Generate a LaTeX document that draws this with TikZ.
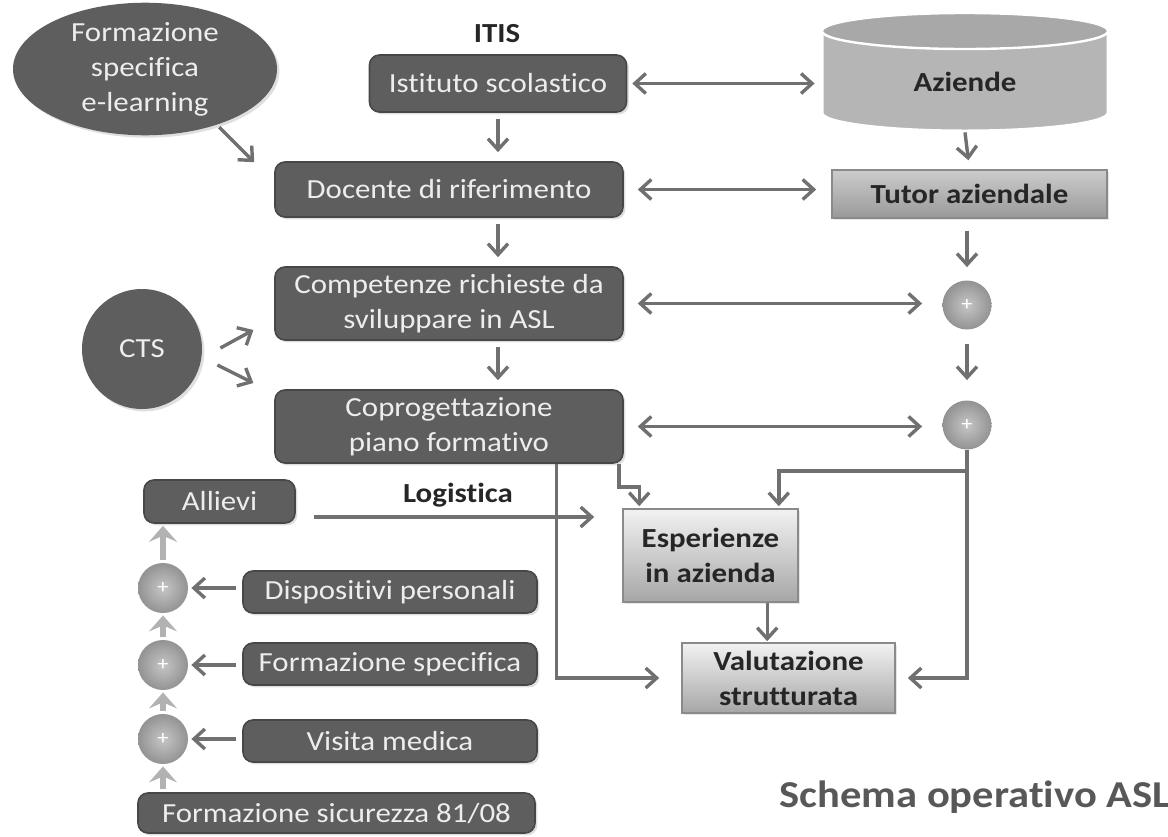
\documentclass[tikz,border=0pt]{standalone}
\usepackage{fontspec}
\setmainfont{Carlito}[FakeStretch=1.12, Ligatures=NoCommon]
\usetikzlibrary{arrows.meta, calc, shapes.geometric, shadows}
\definecolor{sDark}{HTML}{5E5E5E}
\definecolor{sEdge}{HTML}{474747}
\definecolor{sText}{HTML}{EDEDED}
\definecolor{sInk}{HTML}{262626}
\definecolor{sArrow}{HTML}{707070}
\definecolor{sCyl}{HTML}{B5B5B5}
\definecolor{sCylTop}{HTML}{A8A8A8}
\definecolor{sLightTop}{HTML}{F2F2F2}
\definecolor{sLightBot}{HTML}{A6A6A6}
\definecolor{sLightEdge}{HTML}{8A8A8A}
\definecolor{sTitle}{HTML}{585858}

\begin{document}
\begin{tikzpicture}[x=0.5pt, y=-0.5pt, >={Straight Barb[length=5.5pt, width=10pt]},
  txt/.style={font=\fontsize{13.8}{17.5}\selectfont, align=center, inner sep=0pt},
  lbl/.style={txt, font=\fontsize{13.8}{17.5}\selectfont\bfseries, text=sInk},
  dblob/.style={txt, fill=sDark, text=sText, drop shadow={shadow xshift=1.2pt, shadow yshift=-1.2pt, opacity=0.25}},
  dbox/.style={dblob, rectangle, rounded corners=5pt, draw=sEdge, line width=0.8pt},
  lbox/.style={lbl, rectangle, top color=sLightTop, bottom color=sLightBot, draw=sLightEdge, line width=0.8pt,
               drop shadow={shadow xshift=1pt, shadow yshift=-1pt, opacity=0.2}},
  plus/.style={circle, minimum size=24.5pt, inner sep=0pt, shading=radial, inner color=gray!45, outer color=gray!85,
               text=white, font=\fontsize{10}{10}\selectfont},
  arr/.style={draw=sArrow, line width=1.7pt, shorten <=3pt, shorten >=4.5pt},
  chev/.style={draw=gray!60, line width=3pt, -{Stealth[length=8pt, width=14pt, inset=3pt]}, shorten <=1.5pt, shorten >=1pt}]
  \useasboundingbox (0,0) rectangle (1168,836);

  % companies cylinder
  \draw[white, line width=1.5pt, fill=sCyl] (822,31) -- (822,113) arc[start angle=180, end angle=0, x radius=143, y radius=18]
    -- (1108,31) arc[start angle=0, end angle=-180, x radius=143, y radius=18] -- cycle;
  \draw[white, line width=1.2pt, fill=sCylTop] (965,31) ellipse [x radius=143, y radius=18];

  % top and middle column
  \node[lbl] (itis) at (497,34) {ITIS};
  \node[dbox, minimum width=128.5pt, minimum height=28.5pt] (ist) at (498,83.5) {Istituto scolastico};
  \node[lbl, minimum width=143pt, minimum height=50pt] (az) at (965,82) {Aziende};
  \node[dblob, ellipse, minimum width=132pt, minimum height=59pt] (form) at (145,69) {Formazione\\specifica\\e-learning};
  \node[dbox, minimum width=174pt, minimum height=27.5pt] (doc) at (449,189.5) {Docente di riferimento};
  \node[lbox, top color=gray!40, bottom color=gray!80, minimum width=137.5pt, minimum height=24pt] (tut) at (969.5,194) {Tutor aziendale};
  \node[dbox, minimum width=174pt, minimum height=36.5pt] (comp) at (449,303.5) {Competenze richieste da\\sviluppare in ASL};
  \node[dbox, minimum width=174pt, minimum height=36.5pt] (cop) at (449,426.5) {Coprogettazione\\piano formativo};
  \node[dblob, circle, minimum size=60pt] (cts) at (142,349) {CTS};
  \node[plus] (p1) at (967,305) {+};
  \node[plus] (p2) at (967,425) {+};
  \node[lbox, minimum width=87.5pt, minimum height=46.5pt] (esp) at (710.5,555.5) {Esperienze\\in azienda};
  \node[lbox, minimum width=106.5pt, minimum height=35pt] (val) at (788.5,678) {Valutazione\\strutturata};

  % left column
  \node[dbox, minimum width=75.5pt, minimum height=21.5pt] (all) at (219.5,501.5) {Allievi};
  \node[lbl] (logl) at (458,495) {Logistica};
  \foreach \n/\y/\t in {disp/592/Dispositivi personali, fspec/664/Formazione specifica, vis/741/Visita medica}
    \node[dbox, minimum width=147pt, minimum height=21pt] (\n) at (390,\y) {\t};
  \node[dbox, minimum width=198.5pt, minimum height=20pt] (sic) at (336.5,813) {Formazione sicurezza 81/08};
  \foreach \n/\y in {pA/588, pB/665, pC/739}
    \node[plus, minimum size=25pt] (\n) at (163,\y) {+};

  \node[font=\fontsize{19}{22}\selectfont\bfseries, text=sTitle, inner sep=0pt] (title) at (975,797) {Schema operativo ASL};

  % connectors
  \draw[arr, <->, shorten <=2.5pt, shorten >=3.5pt] (ist.east) -- (ist.east -| az.west);
  \draw[arr, <->, shorten <=7pt, shorten >=7.5pt] (doc.east) -- (doc.east -| tut.west);
  \draw[arr, <->, shorten <=7pt, shorten >=10pt] (comp.east) -- (comp.east -| p1.west);
  \draw[arr, <->, shorten <=7pt, shorten >=10pt] (cop.east) -- (cop.east -| p2.west);
  \draw[arr, ->] (ist.south) -- (ist.south |- doc.north);
  \draw[arr, ->] (ist.south |- doc.south) -- (ist.south |- comp.north);
  \draw[arr, ->] (ist.south |- comp.south) -- (ist.south |- cop.north);
  \draw[arr, ->, shorten <=0pt] (az.south) -- (tut.north);
  \draw[arr, ->, shorten <=6pt, shorten >=6.5pt] (tut.south -| p1) -- (p1.north);
  \draw[arr, ->, shorten <=7pt, shorten >=10pt] (p1) -- (p2);
  \draw[arr, ->, shorten <=0pt, shorten >=0pt] ($(doc.north west)+(-55,-34)$) -- ++(35,35);
  \draw[arr, ->, shorten <=0pt, shorten >=0pt] ($(cts.east)+(18,-1)$) -- ++(33,-18);
  \draw[arr, ->, shorten <=0pt, shorten >=0pt] ($(cts.east)+(15,16)$) -- ++(36,18);

  \coordinate (copL) at ($(cop.south west)+(282,0)$);
  \coordinate (copR) at ($(cop.south east)+(-5,0)$);
  \coordinate (espout) at ($(esp.south west)+(145,0)$);
  \coordinate (logi) at ($(all.east)+(18,15.5)$);
  \draw[arr, ->, shorten <=0pt, shorten >=11pt] (copL) |- (val.west);
  \draw[arr, ->, shorten <=0pt, shorten >=1pt] (copR) -- ++(0,23) -| ($(esp.north west)+(17,0)$);
  \draw[arr, ->, shorten <=0pt, shorten >=1pt] (p2.south) -- ++(0,21) -| ($(esp.north east)+(-20,0)$);
  \draw[arr, ->, shorten <=0pt, shorten >=6pt] (p2.south) |- (val.east);
  \draw[arr, ->, shorten <=0pt, shorten >=0.5pt] (espout) -- (espout |- val.north);
  \draw[arr, ->, shorten <=0pt, shorten >=14pt] (logi) -- (logi -| esp.west);

  \foreach \b/\p in {disp/pA, fspec/pB, vis/pC}
    \draw[arr, ->, shorten >=1.5pt] (\b.west |- \p) -- (\p.east);
  \foreach \a/\b in {sic/pC, pC/pB, pB/pA, pA/all}
    \draw[chev] (\a.north -| pA) -- (\b.south -| pA);
\end{tikzpicture}
\end{document}
